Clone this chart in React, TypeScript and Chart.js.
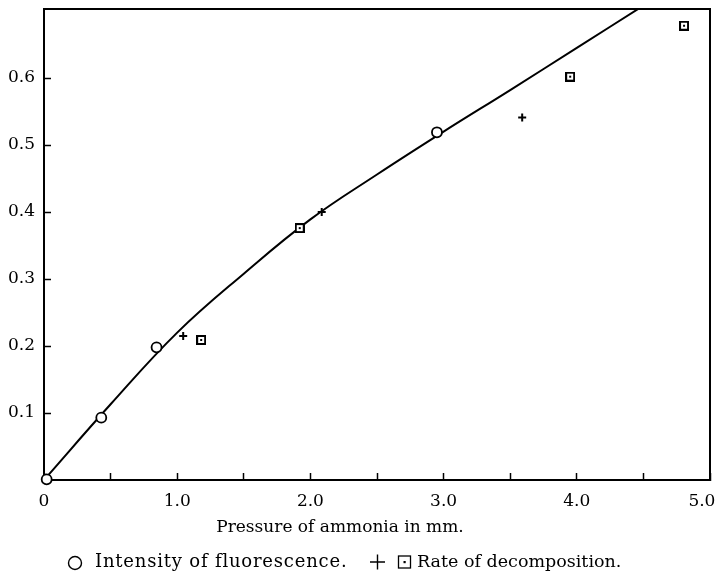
import React, { useEffect, useRef } from 'react';
import { Chart, registerables } from 'chart.js';

Chart.register(...registerables);

const FONT = "'DejaVu Serif', 'Liberation Serif', serif";

// Smooth fitted curve
const curveX = [0, 0.5, 1.0, 1.5, 2.0, 2.5, 3.0, 3.5, 4.0, 4.5];
const curveY = [0, 0.113, 0.22, 0.308, 0.389, 0.456, 0.52, 0.582, 0.645, 0.708];

// Intensity of fluorescence (open circles)
const fluorX = [0.02, 0.43, 0.845, 2.95];
const fluorY = [0.001, 0.093, 0.198, 0.519];

// Rate of decomposition (+)
const plusX = [1.045, 2.085, 3.59];
const plusY = [0.215, 0.4, 0.541];

// Rate of decomposition (dotted squares)
const squareX = [1.18, 1.92, 3.95, 4.805];
const squareY = [0.209, 0.376, 0.602, 0.678];

const xTickValues = [0, 1, 2, 3, 4, 5];
const xTickLabels = ['0', '1.0', '2.0', '3.0', '4.0', '5.0   '];
const yTickValues = [0.1, 0.2, 0.3, 0.4, 0.5, 0.6];
const yTickLabels = ['0.1', '0.2', '0.3', '0.4', '0.5', '0.6'];

const xTitle = 'Pressure of ammonia in mm.';
const legendFluor = 'Intensity of fluorescence.';
const legendDecomp = 'Rate of decomposition.';

function makeSquareDot(): HTMLCanvasElement {
  const c = document.createElement('canvas');
  c.width = 10;
  c.height = 10;
  const g = c.getContext('2d')!;
  g.fillStyle = '#000';
  g.fillRect(0, 0, 10, 10);
  g.fillStyle = '#fff';
  g.fillRect(2, 2, 6, 6);
  g.fillStyle = '#000';
  g.fillRect(4, 4, 2, 2);
  return c;
}

const near = (a: number, b: number) => Math.abs(a - b) < 1e-6;

const framePlugin = {
  id: 'frameAndNotes',
  afterDraw(chart: any) {
    const { ctx, chartArea } = chart;
    const { left, right, top, bottom } = chartArea;
    ctx.save();
    // frame top and right
    ctx.strokeStyle = '#000';
    ctx.lineWidth = 2;
    ctx.beginPath();
    ctx.moveTo(left, top);
    ctx.lineTo(right, top);
    ctx.lineTo(right, bottom);
    ctx.stroke();

    ctx.fillStyle = '#000';
    ctx.font = `17px ${FONT}`;
    ctx.textBaseline = 'middle';
    // axis title
    ctx.textAlign = 'center';
    ctx.fillText(xTitle, 340, 528);

    // legend row
    const base = 567;
    ctx.textBaseline = 'alphabetic';
    ctx.textAlign = 'left';
    ctx.lineWidth = 1.4;
    ctx.beginPath();
    ctx.arc(75, 563, 6.5, 0, Math.PI * 2);
    ctx.stroke();
    ctx.font = `18px ${FONT}`;
    (ctx as any).letterSpacing = '0.8px';
    ctx.fillText(legendFluor, 95, base);
    (ctx as any).letterSpacing = '0px';
    const px = 377.5;
    const py = 562;
    ctx.beginPath();
    ctx.moveTo(px - 7.5, py);
    ctx.lineTo(px + 7.5, py);
    ctx.moveTo(px, py - 7.5);
    ctx.lineTo(px, py + 7.5);
    ctx.stroke();
    const sx = 404.5;
    ctx.lineWidth = 1.3;
    ctx.strokeRect(sx - 6, py - 6, 12, 12);
    ctx.fillRect(sx - 1, py - 1, 2.2, 2.2);
    ctx.font = `17.5px ${FONT}`;
    ctx.fillText(legendDecomp, 417, base);
    ctx.restore();
  },
};

export default function App() {
  const ref = useRef<HTMLCanvasElement>(null);

  useEffect(() => {
    if (!ref.current) return;
    const squareImg = makeSquareDot();
    const chart = new Chart(ref.current, {
      type: 'scatter',
      data: {
        datasets: [
          {
            label: 'Intensity of fluorescence',
            data: fluorX.map((x, i) => ({ x, y: fluorY[i] })),
            pointStyle: 'circle',
            pointRadius: 5,
            borderColor: '#000',
            backgroundColor: '#fff',
            borderWidth: 1.8,
            clip: false,
            order: 1,
          },
          {
            label: 'Rate of decomposition (+)',
            data: plusX.map((x, i) => ({ x, y: plusY[i] })),
            pointStyle: 'cross',
            pointRadius: 4,
            borderColor: '#000',
            borderWidth: 2,
            order: 1,
          },
          {
            label: 'Rate of decomposition (square)',
            data: squareX.map((x, i) => ({ x, y: squareY[i] })),
            pointStyle: squareImg,
            pointRadius: 5,
            order: 1,
          },
          {
            type: 'line',
            label: 'curve',
            data: curveX.map((x, i) => ({ x, y: curveY[i] })),
            borderColor: '#000',
            borderWidth: 2,
            pointRadius: 0,
            showLine: true,
            fill: false,
            tension: 0.4,
            order: 5,
          } as any,
        ],
      },
      options: {
        animation: false,
        responsive: true,
        maintainAspectRatio: false,
        layout: { padding: { top: 9, right: 8, left: 0, bottom: 0 } },
        plugins: {
          legend: { display: false },
          tooltip: { enabled: false },
        },
        scales: {
          x: {
            type: 'linear',
            min: 0,
            max: 5,
            afterFit(scale: any) {
              scale.height = 93;
              scale.paddingLeft = 0;
              scale.paddingRight = 0;
            },
            ticks: {
              stepSize: 0.5,
              padding: 18,
              color: '#000',
              maxRotation: 0,
              autoSkip: false,
              font: { family: FONT, size: 17 },
              callback(value: any) {
                const v = Number(value);
                const i = xTickValues.findIndex((t) => near(t, v));
                return i >= 0 ? xTickLabels[i] : '';
              },
            },
            grid: {
              drawOnChartArea: false,
              drawTicks: true,
              tickLength: -7,
              tickWidth: 1.5,
              color: '#000',
            },
            border: { display: true, color: '#000', width: 2 },
          },
          y: {
            type: 'linear',
            min: 0,
            max: 0.703,
            afterFit(scale: any) {
              scale.width = 44;
              scale.paddingTop = 0;
              scale.paddingBottom = 0;
            },
            ticks: {
              stepSize: 0.1,
              padding: 16,
              color: '#000',
              autoSkip: false,
              font: { family: FONT, size: 17 },
              callback(value: any) {
                const v = Number(value);
                if (v > 0.65) return null as any;
                const i = yTickValues.findIndex((t) => near(t, v));
                return i >= 0 ? yTickLabels[i] : '';
              },
            },
            grid: {
              drawOnChartArea: false,
              drawTicks: true,
              tickLength: -7,
              tickWidth: 1.5,
              color: '#000',
            },
            border: { display: true, color: '#000', width: 2 },
          },
        },
      },
      plugins: [framePlugin],
    });
    return () => chart.destroy();
  }, []);

  return (
    <div style={{ position: 'absolute', left: 0, top: 0, width: 718, height: 573, background: '#fff' }}>
      <canvas ref={ref} />
    </div>
  );
}
